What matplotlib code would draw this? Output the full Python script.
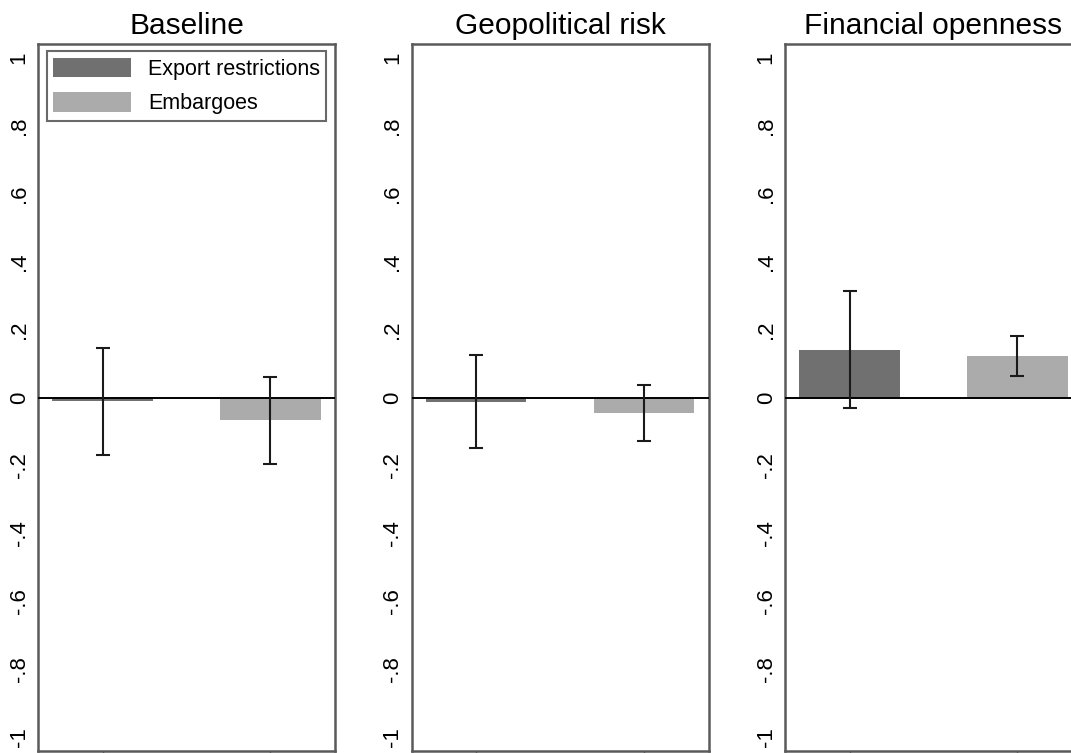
import matplotlib
matplotlib.use("Agg")
import matplotlib.pyplot as plt
from matplotlib.patches import Patch

plt.rcParams['font.family'] = ['Liberation Sans', 'DejaVu Sans']

# Point estimates and confidence bounds per specification
panels = ["Baseline", "Geopolitical risk", "Financial openness"]
series = ["Export restrictions", "Embargoes"]

export_coef = [-0.010, -0.012, 0.139]
export_lo = [-0.170, -0.148, -0.031]
export_hi = [0.145, 0.125, 0.313]

embargo_coef = [-0.066, -0.047, 0.121]
embargo_lo = [-0.197, -0.128, 0.064]
embargo_hi = [0.060, 0.036, 0.182]

yticks = [1, 0.8, 0.6, 0.4, 0.2, 0, -0.2, -0.4, -0.6, -0.8, -1]
ytick_labels = ["1", ".8", ".6", ".4", ".2", "0", "-.2", "-.4", "-.6", "-.8", "-1"]

colors = ["#707070", "#ababab"]
spine_color = "#5a5a5a"

W, H = 1071, 753
fig = plt.figure(figsize=(W / 100, H / 100), dpi=100)
fig.patch.set_facecolor("white")

lefts_px = [38, 411.5, 785]
width_px = 297
top_px, bottom_px = 44, 751

positions = [1, 2]
for i, name in enumerate(panels):
    ax = fig.add_axes([lefts_px[i] / W, 1 - bottom_px / H,
                       width_px / W, (bottom_px - top_px) / H])
    coefs = [export_coef[i], embargo_coef[i]]
    los = [export_lo[i], embargo_lo[i]]
    his = [export_hi[i], embargo_hi[i]]
    ax.bar(positions, coefs, width=0.6, color=colors, zorder=2)
    ax.axhline(0, color="black", lw=1.4, zorder=3)
    yerr = [[c - l for c, l in zip(coefs, los)], [h - c for c, h in zip(coefs, his)]]
    ax.errorbar(positions, coefs, yerr=yerr, fmt="none", ecolor="#1a1a1a",
                elinewidth=1.5, capsize=5, capthick=1.5, zorder=4)
    ax.set_xlim(0.615, 2.385)
    ax.set_ylim(-1.04, 1.04)
    ax.set_yticks(yticks)
    ax.set_yticklabels(ytick_labels, rotation=90, va="center", fontsize=16)
    ax.tick_params(axis="y", length=0, pad=6)
    ax.set_xticks(positions)
    ax.set_xticklabels([])
    ax.tick_params(axis="x", length=5, width=1, color=spine_color, direction="out")
    for s in ax.spines.values():
        s.set_color(spine_color)
        s.set_linewidth(1.8)
    ax.set_title(name, fontsize=21.5, pad=7)

    if i == 0:
        handles = [Patch(facecolor=colors[0], edgecolor="none"),
                   Patch(facecolor=colors[1], edgecolor="none")]
        leg = ax.legend(handles, series, loc="upper left",
                        bbox_to_anchor=(0.029, 0.99), fontsize=15.5,
                        frameon=True, fancybox=False, handlelength=3.6,
                        handleheight=1.0, handletextpad=0.8,
                        labelspacing=0.6, borderpad=0.3, borderaxespad=0)
        leg.get_frame().set_edgecolor("#444444")
        leg.get_frame().set_linewidth(1.5)

fig.savefig("out.png", dpi=100)
